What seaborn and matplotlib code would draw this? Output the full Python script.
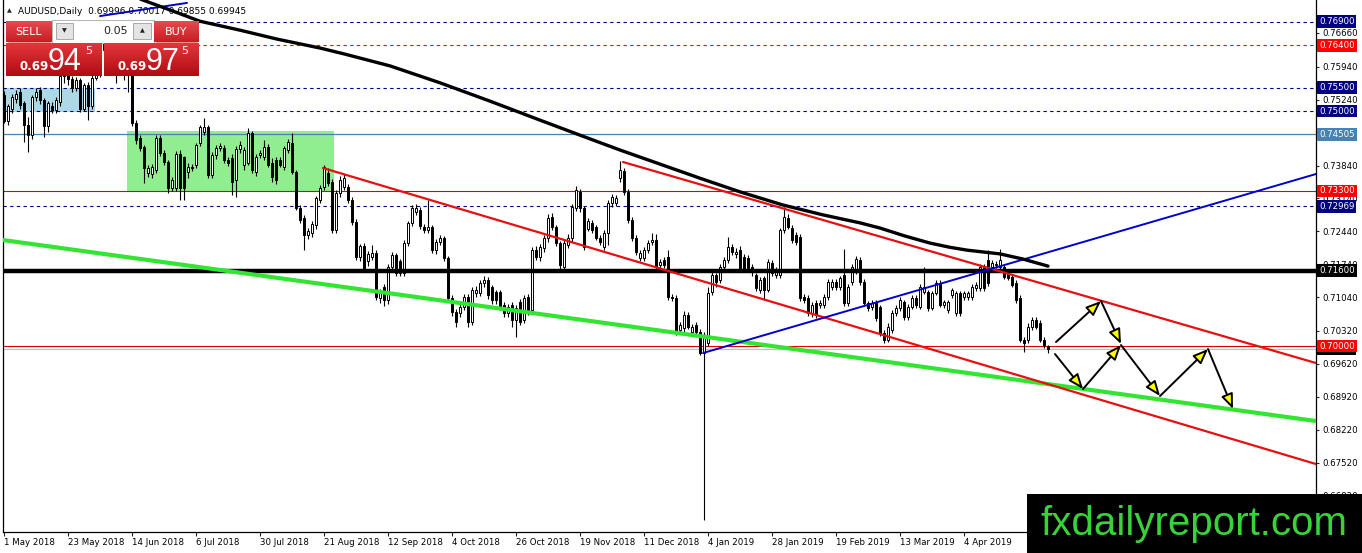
import numpy as np
import pandas as pd
import matplotlib
matplotlib.use("Agg")
import matplotlib.pyplot as plt
from matplotlib.patches import Rectangle, FancyArrowPatch
from matplotlib.colors import LinearSegmentedColormap
import seaborn as sns

# daily AUDUSD candles, bar 0 = 1 May 2018
opens = [
    0.7534, 0.7479, 0.7505, 0.7525, 0.7540, 0.7517, 0.7470, 0.7449, 0.7530, 0.7545,
    0.7523, 0.7468, 0.7511, 0.7502, 0.7519, 0.7575, 0.7600, 0.7568, 0.7550, 0.7565,
    0.7505, 0.7555, 0.7510, 0.7570, 0.7610, 0.7630, 0.7655, 0.7620, 0.7600, 0.7590,
    0.7610, 0.7585, 0.7610, 0.7474, 0.7443, 0.7423, 0.7368, 0.7365, 0.7374, 0.7443,
    0.7411, 0.7391, 0.7336, 0.7336, 0.7409, 0.7402, 0.7370, 0.7381, 0.7385, 0.7432,
    0.7455, 0.7466, 0.7364, 0.7406, 0.7421, 0.7421, 0.7396, 0.7400, 0.7353, 0.7419,
    0.7385, 0.7390, 0.7453, 0.7370, 0.7406, 0.7402, 0.7423, 0.7390, 0.7396, 0.7396,
    0.7381, 0.7417, 0.7432, 0.7370, 0.7294, 0.7272, 0.7236, 0.7240, 0.7257, 0.7311,
    0.7338, 0.7368, 0.7349, 0.7247, 0.7326, 0.7338, 0.7338, 0.7311, 0.7264, 0.7189,
    0.7212, 0.7181, 0.7189, 0.7198, 0.7102, 0.7125, 0.7098, 0.7168, 0.7193, 0.7181,
    0.7155, 0.7219, 0.7261, 0.7285, 0.7290, 0.7253, 0.7247, 0.7253, 0.7204, 0.7221,
    0.7230, 0.7187, 0.7102, 0.7072, 0.7070, 0.7083, 0.7104, 0.7051, 0.7113, 0.7113,
    0.7134, 0.7140, 0.7125, 0.7115, 0.7115, 0.7087, 0.7070, 0.7087, 0.7055, 0.7093,
    0.7055, 0.7104, 0.7077, 0.7204, 0.7189, 0.7208, 0.7230, 0.7274, 0.7253, 0.7219,
    0.7168, 0.7215, 0.7230, 0.7294, 0.7328, 0.7294, 0.7250, 0.7262, 0.7253, 0.7230,
    0.7210, 0.7240, 0.7304, 0.7304, 0.7358, 0.7372, 0.7328, 0.7268, 0.7230, 0.7187,
    0.7187, 0.7204, 0.7221, 0.7226, 0.7172, 0.7183, 0.7190, 0.7104, 0.7102, 0.7034,
    0.7038, 0.7066, 0.7030, 0.7045, 0.7030, 0.6985, 0.7006, 0.7115, 0.7151, 0.7140,
    0.7168, 0.7183, 0.7210, 0.7196, 0.7205, 0.7190, 0.7188, 0.7168, 0.7151, 0.7119,
    0.7145, 0.7120, 0.7177, 0.7151, 0.7151, 0.7247, 0.7272, 0.7251, 0.7236, 0.7232,
    0.7104, 0.7102, 0.7070, 0.7091, 0.7087, 0.7087, 0.7104, 0.7126, 0.7136, 0.7126,
    0.7151, 0.7091, 0.7136, 0.7160, 0.7183, 0.7136, 0.7091, 0.7083, 0.7091, 0.7083,
    0.7028, 0.7013, 0.7034, 0.7070, 0.7081, 0.7093, 0.7062, 0.7083, 0.7102, 0.7083,
    0.7115, 0.7115, 0.7081, 0.7113, 0.7134, 0.7087, 0.7077, 0.7108, 0.7070, 0.7113,
    0.7104, 0.7104, 0.7104, 0.7123, 0.7123, 0.7168, 0.7183, 0.7168, 0.7172, 0.7168,
    0.7168, 0.7157, 0.7147, 0.7134, 0.7102, 0.7013, 0.7013, 0.7040, 0.7055, 0.7049,
    0.7013, 0.69996,
]
highs = [
    0.7542, 0.7515, 0.7536, 0.7545, 0.7548, 0.7522, 0.7488, 0.7535, 0.7550, 0.7552,
    0.7528, 0.7522, 0.7520, 0.7530, 0.7582, 0.7608, 0.7612, 0.7575, 0.7572, 0.7570,
    0.7560, 0.7562, 0.7578, 0.7615, 0.7638, 0.7662, 0.7676, 0.7630, 0.7612, 0.7618,
    0.7615, 0.7620, 0.7615, 0.7480, 0.7448, 0.7428, 0.7386, 0.7388, 0.7450, 0.7448,
    0.7418, 0.7395, 0.7360, 0.7415, 0.7416, 0.7405, 0.7390, 0.7388, 0.7432, 0.7470,
    0.7485, 0.7470, 0.7412, 0.7428, 0.7432, 0.7428, 0.7402, 0.7408, 0.7425, 0.7436,
    0.7424, 0.7464, 0.7458, 0.7408, 0.7418, 0.7438, 0.7430, 0.7400, 0.7402, 0.7402,
    0.7426, 0.7440, 0.7453, 0.7375, 0.7300, 0.7278, 0.7252, 0.7265, 0.7320, 0.7342,
    0.7386, 0.7378, 0.7355, 0.7332, 0.7362, 0.7366, 0.7345, 0.7316, 0.7270, 0.7218,
    0.7220, 0.7202, 0.7215, 0.7205, 0.7122, 0.7132, 0.7175, 0.7200, 0.7198, 0.7186,
    0.7225, 0.7266, 0.7300, 0.7302, 0.7296, 0.7260, 0.7311, 0.7258, 0.7228, 0.7236,
    0.7235, 0.7192, 0.7108, 0.7078, 0.7090, 0.7110, 0.7110, 0.7125, 0.7128, 0.7140,
    0.7148, 0.7146, 0.7130, 0.7120, 0.7120, 0.7093, 0.7090, 0.7093, 0.7088, 0.7100,
    0.7108, 0.7110, 0.7210, 0.7212, 0.7216, 0.7236, 0.7280, 0.7282, 0.7258, 0.7224,
    0.7226, 0.7238, 0.7302, 0.7340, 0.7334, 0.7298, 0.7272, 0.7268, 0.7258, 0.7236,
    0.7246, 0.7310, 0.7324, 0.7322, 0.7393, 0.7378, 0.7334, 0.7274, 0.7236, 0.7205,
    0.7210, 0.7225, 0.7240, 0.7238, 0.7186, 0.7190, 0.7205, 0.7110, 0.7108, 0.7052,
    0.7074, 0.7072, 0.7046, 0.7052, 0.7036, 0.7030, 0.7125, 0.7158, 0.7155, 0.7174,
    0.7190, 0.7232, 0.7218, 0.7208, 0.7212, 0.7196, 0.7194, 0.7174, 0.7156, 0.7146,
    0.7150, 0.7186, 0.7184, 0.7168, 0.7252, 0.7296, 0.7280, 0.7258, 0.7242, 0.7238,
    0.7110, 0.7108, 0.7094, 0.7098, 0.7098, 0.7110, 0.7142, 0.7142, 0.7142, 0.7150,
    0.7206, 0.7132, 0.7174, 0.7192, 0.7190, 0.7142, 0.7096, 0.7098, 0.7097, 0.7088,
    0.7034, 0.7048, 0.7076, 0.7088, 0.7104, 0.7098, 0.7090, 0.7108, 0.7108, 0.7132,
    0.7168, 0.7120, 0.7118, 0.7140, 0.7140, 0.7098, 0.7098, 0.7124, 0.7118, 0.7118,
    0.7118, 0.7118, 0.7132, 0.7136, 0.7174, 0.7174, 0.7205, 0.7182, 0.7180, 0.7206,
    0.7174, 0.7162, 0.7152, 0.7140, 0.7108, 0.7020, 0.7048, 0.7062, 0.7062, 0.7056,
    0.7020, 0.70017,
]
lows = [
    0.7475, 0.7470, 0.7495, 0.7518, 0.7505, 0.7434, 0.7413, 0.7440, 0.7522, 0.7515,
    0.7445, 0.7455, 0.7495, 0.7496, 0.7510, 0.7560, 0.7555, 0.7540, 0.7542, 0.7498,
    0.7500, 0.7480, 0.7505, 0.7565, 0.7572, 0.7620, 0.7612, 0.7590, 0.7560, 0.7582,
    0.7566, 0.7540, 0.7468, 0.7430, 0.7415, 0.7347, 0.7360, 0.7358, 0.7368, 0.7405,
    0.7385, 0.7326, 0.7330, 0.7330, 0.7311, 0.7311, 0.7358, 0.7372, 0.7378, 0.7425,
    0.7450, 0.7358, 0.7358, 0.7398, 0.7415, 0.7390, 0.7382, 0.7321, 0.7317, 0.7410,
    0.7375, 0.7385, 0.7368, 0.7362, 0.7400, 0.7396, 0.7380, 0.7350, 0.7345, 0.7380,
    0.7375, 0.7410, 0.7365, 0.7290, 0.7262, 0.7204, 0.7228, 0.7232, 0.7250, 0.7305,
    0.7332, 0.7340, 0.7240, 0.7240, 0.7318, 0.7332, 0.7305, 0.7258, 0.7183, 0.7180,
    0.7160, 0.7170, 0.7182, 0.7098, 0.7092, 0.7085, 0.7090, 0.7160, 0.7150, 0.7148,
    0.7150, 0.7212, 0.7255, 0.7278, 0.7248, 0.7240, 0.7240, 0.7198, 0.7196, 0.7214,
    0.7180, 0.7096, 0.7064, 0.7040, 0.7062, 0.7076, 0.7040, 0.7045, 0.7105, 0.7106,
    0.7126, 0.7100, 0.7090, 0.7090, 0.7076, 0.7062, 0.7062, 0.7040, 0.7019, 0.7045,
    0.7048, 0.7065, 0.7070, 0.7182, 0.7180, 0.7200, 0.7222, 0.7246, 0.7212, 0.7164,
    0.7160, 0.7208, 0.7222, 0.7288, 0.7286, 0.7204, 0.7244, 0.7240, 0.7225, 0.7214,
    0.7204, 0.7215, 0.7296, 0.7298, 0.7350, 0.7322, 0.7262, 0.7224, 0.7194, 0.7180,
    0.7180, 0.7198, 0.7214, 0.7162, 0.7165, 0.7165, 0.7098, 0.7096, 0.7024, 0.7026,
    0.7030, 0.7036, 0.7024, 0.7024, 0.6980, 0.6630, 0.7000, 0.7108, 0.7126, 0.7134,
    0.7160, 0.7176, 0.7194, 0.7188, 0.7158, 0.7158, 0.7160, 0.7150, 0.7118, 0.7112,
    0.7098, 0.7115, 0.7150, 0.7145, 0.7145, 0.7240, 0.7248, 0.7220, 0.7215, 0.7096,
    0.7092, 0.7064, 0.7062, 0.7060, 0.7080, 0.7080, 0.7098, 0.7120, 0.7120, 0.7120,
    0.7085, 0.7085, 0.7130, 0.7154, 0.7130, 0.7085, 0.7074, 0.7076, 0.7054, 0.7022,
    0.7006, 0.7008, 0.7028, 0.7064, 0.7075, 0.7056, 0.7056, 0.7078, 0.7080, 0.7078,
    0.7110, 0.7075, 0.7076, 0.7108, 0.7082, 0.7080, 0.7070, 0.7102, 0.7064, 0.7064,
    0.7098, 0.7098, 0.7098, 0.7118, 0.7118, 0.7118, 0.7128, 0.7162, 0.7166, 0.7162,
    0.7142, 0.7140, 0.7125, 0.7092, 0.7008, 0.6987, 0.7006, 0.7034, 0.7036, 0.7008,
    0.6996, 0.69855,
]
closes = [
    0.7479, 0.7510, 0.7530, 0.7536, 0.7513, 0.7470, 0.7449, 0.7530, 0.7540, 0.7523,
    0.7468, 0.7517, 0.7502, 0.7523, 0.7575, 0.7600, 0.7568, 0.7550, 0.7565, 0.7505,
    0.7555, 0.7510, 0.7570, 0.7610, 0.7630, 0.7655, 0.7620, 0.7600, 0.7590, 0.7610,
    0.7585, 0.7610, 0.7474, 0.7438, 0.7421, 0.7379, 0.7379, 0.7380, 0.7443, 0.7411,
    0.7391, 0.7336, 0.7353, 0.7409, 0.7336, 0.7336, 0.7381, 0.7379, 0.7428, 0.7466,
    0.7466, 0.7364, 0.7406, 0.7421, 0.7425, 0.7396, 0.7389, 0.7349, 0.7419, 0.7428,
    0.7417, 0.7453, 0.7374, 0.7402, 0.7411, 0.7423, 0.7385, 0.7360, 0.7353, 0.7385,
    0.7421, 0.7434, 0.7370, 0.7294, 0.7268, 0.7236, 0.7245, 0.7259, 0.7315, 0.7336,
    0.7381, 0.7347, 0.7247, 0.7326, 0.7353, 0.7358, 0.7311, 0.7264, 0.7189, 0.7212,
    0.7165, 0.7196, 0.7198, 0.7104, 0.7115, 0.7098, 0.7168, 0.7193, 0.7155, 0.7155,
    0.7219, 0.7261, 0.7294, 0.7294, 0.7255, 0.7247, 0.7253, 0.7204, 0.7221, 0.7230,
    0.7187, 0.7102, 0.7072, 0.7051, 0.7083, 0.7104, 0.7051, 0.7119, 0.7119, 0.7134,
    0.7140, 0.7108, 0.7098, 0.7098, 0.7083, 0.7070, 0.7083, 0.7055, 0.7081, 0.7051,
    0.7102, 0.7072, 0.7204, 0.7189, 0.7210, 0.7230, 0.7272, 0.7253, 0.7219, 0.7172,
    0.7219, 0.7230, 0.7296, 0.7332, 0.7294, 0.7210, 0.7266, 0.7247, 0.7230, 0.7221,
    0.7240, 0.7304, 0.7317, 0.7315, 0.7375, 0.7328, 0.7268, 0.7230, 0.7200, 0.7198,
    0.7204, 0.7219, 0.7226, 0.7168, 0.7179, 0.7172, 0.7104, 0.7102, 0.7030, 0.7045,
    0.7066, 0.7041, 0.7040, 0.7030, 0.6985, 0.7023, 0.7113, 0.7151, 0.7136, 0.7168,
    0.7183, 0.7210, 0.7200, 0.7201, 0.7164, 0.7164, 0.7165, 0.7157, 0.7123, 0.7140,
    0.7119, 0.7179, 0.7155, 0.7162, 0.7247, 0.7275, 0.7253, 0.7226, 0.7221, 0.7102,
    0.7098, 0.7070, 0.7087, 0.7066, 0.7091, 0.7104, 0.7136, 0.7136, 0.7126, 0.7145,
    0.7091, 0.7126, 0.7168, 0.7185, 0.7136, 0.7091, 0.7081, 0.7091, 0.7060, 0.7028,
    0.7013, 0.7041, 0.7070, 0.7081, 0.7098, 0.7062, 0.7083, 0.7102, 0.7087, 0.7126,
    0.7126, 0.7081, 0.7113, 0.7134, 0.7087, 0.7093, 0.7093, 0.7119, 0.7113, 0.7070,
    0.7113, 0.7113, 0.7126, 0.7130, 0.7168, 0.7123, 0.7134, 0.7177, 0.7174, 0.7183,
    0.7147, 0.7145, 0.7130, 0.7098, 0.7013, 0.7006, 0.7041, 0.7055, 0.7041, 0.7013,
    0.7002, 0.69945,
]

date_ticks = [0, 16, 32, 48, 64, 80, 96, 112, 128, 144, 160, 176, 192, 208, 224, 240]
date_labels = ['1 May 2018', '23 May 2018', '14 Jun 2018', '6 Jul 2018', '30 Jul 2018',
               '21 Aug 2018', '12 Sep 2018', '4 Oct 2018', '26 Oct 2018', '19 Nov 2018',
               '11 Dec 2018', '4 Jan 2019', '28 Jan 2019', '19 Feb 2019', '13 Mar 2019',
               '4 Apr 2019']
price_ticks = [0.7666, 0.7594, 0.7524, 0.7384, 0.7314, 0.7244, 0.7174,
               0.7104, 0.7032, 0.6962, 0.6892, 0.6822, 0.6752, 0.6682]

# moving average
ma_bar = [31.5, 34.75, 41.5, 49, 59, 68.25, 79, 85.25, 96.5, 109, 121.5, 133.25,
          143.25, 154, 164, 174, 184, 194.75, 204.75, 214, 219, 225.25, 231.5,
          236.5, 240.75, 249, 254.75, 261]
ma_val = [0.7747, 0.7736, 0.7715, 0.7691, 0.7672, 0.7653, 0.7634, 0.7621, 0.7596,
          0.7560, 0.7521, 0.7483, 0.7451, 0.7417, 0.7387, 0.7357, 0.7328, 0.7300,
          0.7279, 0.7262, 0.7251, 0.7234, 0.7219, 0.7210, 0.7204, 0.7196, 0.7185,
          0.7170]

# drawn objects: (bar, price) end points
green_line = [(-0.25, 0.72255), (328, 0.68404)]
red_line_low = [(79.75, 0.73787), (328, 0.67489)]
red_line_high = [(154.75, 0.73915), (328, 0.69638)]
blue_line = [(174.75, 0.69851), (328, 0.73660)]
blue_short = [(24, 0.7702), (45.75, 0.7730)]
blue_box = (-0.25, 22.75, 0.7498, 0.7549)
green_box = (30.75, 82.5, 0.7330, 0.7457)

dash_navy = [0.769, 0.755, 0.750, 0.72969]
dash_red = [0.764]
solid_red = [0.733, 0.700]
steel_level = 0.74505
black_level = 0.716
bid_level = 0.69945

label_vals = [0.76900, 0.76400, 0.75500, 0.75000, 0.74505, 0.73300, 0.72969,
              0.71600, 0.69945, 0.70000]
label_cols = ['#000080', '#ff0000', '#000080', '#000080', '#4682b4', '#ff0000',
              '#000080', '#000000', '#000000', '#ff0000']

path_a = [(263, 0.70085), (274.25, 0.70957), (279.25, 0.70043)]
path_b = [(262.75, 0.69830), (269.75, 0.69085), (279.25, 0.70021), (289, 0.68936),
          (301, 0.69936), (307.25, 0.68662)]

sns.set_theme(style='white')
plt.rcParams['font.family'] = ['DejaVu Sans']

W, H = 1362, 553
fig = plt.figure(figsize=(W / 100, H / 100), dpi=100)
fig.patch.set_facecolor('white')
ax = fig.add_axes([3 / W, (H - 532) / H, 1313 / W, 532 / H])
ax.set_facecolor('white')

# background rectangles
for (x0, x1, y0, y1), col in [(blue_box, '#add8e6'), (green_box, '#90ee90')]:
    ax.add_patch(Rectangle((x0, y0), x1 - x0, y1 - y0, fc=col, ec='none', zorder=1))

# candles
df = pd.DataFrame({'o': opens, 'h': highs, 'l': lows, 'c': closes})
df['bar'] = np.arange(len(df))
up = df[df.c >= df.o]
dn = df[df.c < df.o]
ax.vlines(df.bar, df.l, df.h, color='black', lw=0.8, zorder=3)
ax.bar(up.bar, up.c - up.o, bottom=up.o, width=0.58, color='white', edgecolor='black',
       lw=0.7, zorder=4)
ax.bar(dn.bar, dn.o - dn.c, bottom=dn.c, width=0.58, color='black', edgecolor='black',
       lw=0.7, zorder=4)

# horizontal levels
for v in dash_navy:
    ax.axhline(v, color='#000080', lw=0.8, ls=(0, (3, 3)), zorder=2)
for v in dash_red:
    ax.axhline(v, color='#ff0000', lw=0.8, ls=(0, (3, 3)), zorder=2)
for v in solid_red:
    ax.axhline(v, color='#e00000', lw=0.8, zorder=2)
ax.axhline(steel_level, color='#4682b4', lw=0.9, zorder=2)
ax.axhline(bid_level, color='#c0c0c0', lw=0.8, zorder=2)
ax.axhline(black_level, color='black', lw=3.2, zorder=6)

# trend lines
for pts, col, lw in [(green_line, '#33e533', 3.0), (red_line_low, '#e51010', 1.6),
                     (red_line_high, '#e51010', 1.6), (blue_line, '#0000cc', 1.4),
                     (blue_short, '#0000cc', 1.4)]:
    xs, ys = zip(*pts)
    sns.lineplot(x=list(xs), y=list(ys), ax=ax, color=col, lw=lw, sort=False, zorder=7)

sns.lineplot(x=ma_bar, y=ma_val, ax=ax, color='black', lw=2.4, sort=False, zorder=7)

# forecast arrows
for path in (path_a, path_b):
    for p0, p1 in zip(path[:-1], path[1:]):
        ax.add_patch(FancyArrowPatch(p0, p1, arrowstyle='-|>,head_length=9,head_width=3.6',
                                     mutation_scale=1, fc='#ffff00', ec='black', lw=1.4,
                                     shrinkA=0, shrinkB=0, zorder=8))

ax.set_xlim(-0.25, 328)
ax.set_ylim(0.66043, 0.77362)
ax.set_xlabel('')
ax.set_ylabel('')
for s in ['left', 'right', 'bottom']:
    ax.spines[s].set_color('black')
    ax.spines[s].set_linewidth(0.9)
ax.spines['top'].set_visible(False)

ax.yaxis.tick_right()
ax.set_yticks(price_ticks)
ax.set_yticklabels([f'{v:.5f}' for v in price_ticks], fontsize=6.2, color='black')
ax.tick_params(axis='y', length=2.5, width=0.8, pad=2, direction='out', right=True, left=False)
ax.set_xticks(date_ticks)
ax.set_xticklabels(date_labels, fontsize=6.2, color='black', ha='left')
ax.tick_params(axis='x', length=3, width=0.8, pad=1.5, direction='out', bottom=True)

for k, (v, col) in enumerate(zip(label_vals, label_cols)):
    ax.text(1.0 + 3 / 1313, v, f'{v:.5f}', transform=ax.get_yaxis_transform(),
            fontsize=6.2, color='white', va='center', ha='left', zorder=10 + k,
            clip_on=False, bbox=dict(boxstyle='square,pad=0.22', fc=col, ec='none'))

# overlay in pixel units for the trading panel and watermark
ov = fig.add_axes([0, 0, 1, 1], zorder=20)
ov.patch.set_alpha(0)
ov.axis('off')


def grad_box(x0, y0, x1, y1, c_top, c_bot):
    cmap = LinearSegmentedColormap.from_list('g', [c_top, c_bot])
    ov.imshow(np.linspace(0, 1, 64).reshape(-1, 1), cmap=cmap, extent=(x0, x1, y1, y0),
              aspect='auto', zorder=2, interpolation='bilinear')


ov.add_patch(Rectangle((52, 20), 102, 23, fc='white', ec='#b8b8b8', lw=0.8, zorder=1))
grad_box(6, 21, 52, 42, '#e64a4f', '#c81d23')
grad_box(154, 21, 199, 42, '#e64a4f', '#c81d23')
grad_box(6, 43, 102, 76, '#e3363c', '#b00c12')
grad_box(104, 43, 199, 76, '#e3363c', '#b00c12')
ov.plot([8, 50], [42.3, 42.3], color='#f07a7a', lw=0.6, zorder=3)
ov.plot([156, 197], [42.3, 42.3], color='#f07a7a', lw=0.6, zorder=3)
ov.add_patch(Rectangle((56, 23), 17, 16, fc='#e4e4e4', ec='#a8a8a8', lw=0.7, zorder=3))
ov.add_patch(Rectangle((133, 23), 18, 16, fc='#e4e4e4', ec='#a8a8a8', lw=0.7, zorder=3))
ov.text(64.5, 31, '▼', fontsize=4.5, ha='center', va='center', color='#222222', zorder=4)
ov.text(142, 31, '▲', fontsize=4.5, ha='center', va='center', color='#222222', zorder=4)
ov.text(128, 31, '0.05', fontsize=8, ha='right', va='center', color='#222222', zorder=4)
ov.text(29, 32, 'SELL', fontsize=8, ha='center', va='center', color='white', zorder=4)
ov.text(176.5, 32, 'BUY', fontsize=8, ha='center', va='center', color='white', zorder=4)
for x_small, x_big, x_sup, big in [(20, 48, 85, '94'), (118, 146, 181, '97')]:
    ov.text(x_small, 70, '0.69', fontsize=8.5, fontweight='bold', ha='left', va='baseline',
            color='white', zorder=4)
    ov.text(x_big, 70, big, fontsize=22, family='Liberation Sans', ha='left',
            va='baseline', color='white', zorder=4)
    ov.text(x_sup, 46, '5', fontsize=8, ha='left', va='top', color='white', zorder=4)

ov.add_patch(Rectangle((1027, 494), 335, 59, fc='black', ec='none', zorder=5))
ov.text(1194, 535, 'fxdailyreport.com', fontsize=29, family='Liberation Sans',
        color='#3ad23a', ha='center', va='baseline', zorder=6)
ov.set_xlim(0, W)
ov.set_ylim(H, 0)

# chart title sits under the drawn lines
ax.text(7, 11, '▲', fontsize=4.5, transform=ov.transData, va='center', ha='left', zorder=2)
ax.text(18, 11, 'AUDUSD,Daily  0.69996 0.70017 0.69855 0.69945', fontsize=6.5,
        transform=ov.transData, va='center', ha='left', color='black', zorder=2)

fig.savefig('out.png', dpi=100, facecolor='white')
